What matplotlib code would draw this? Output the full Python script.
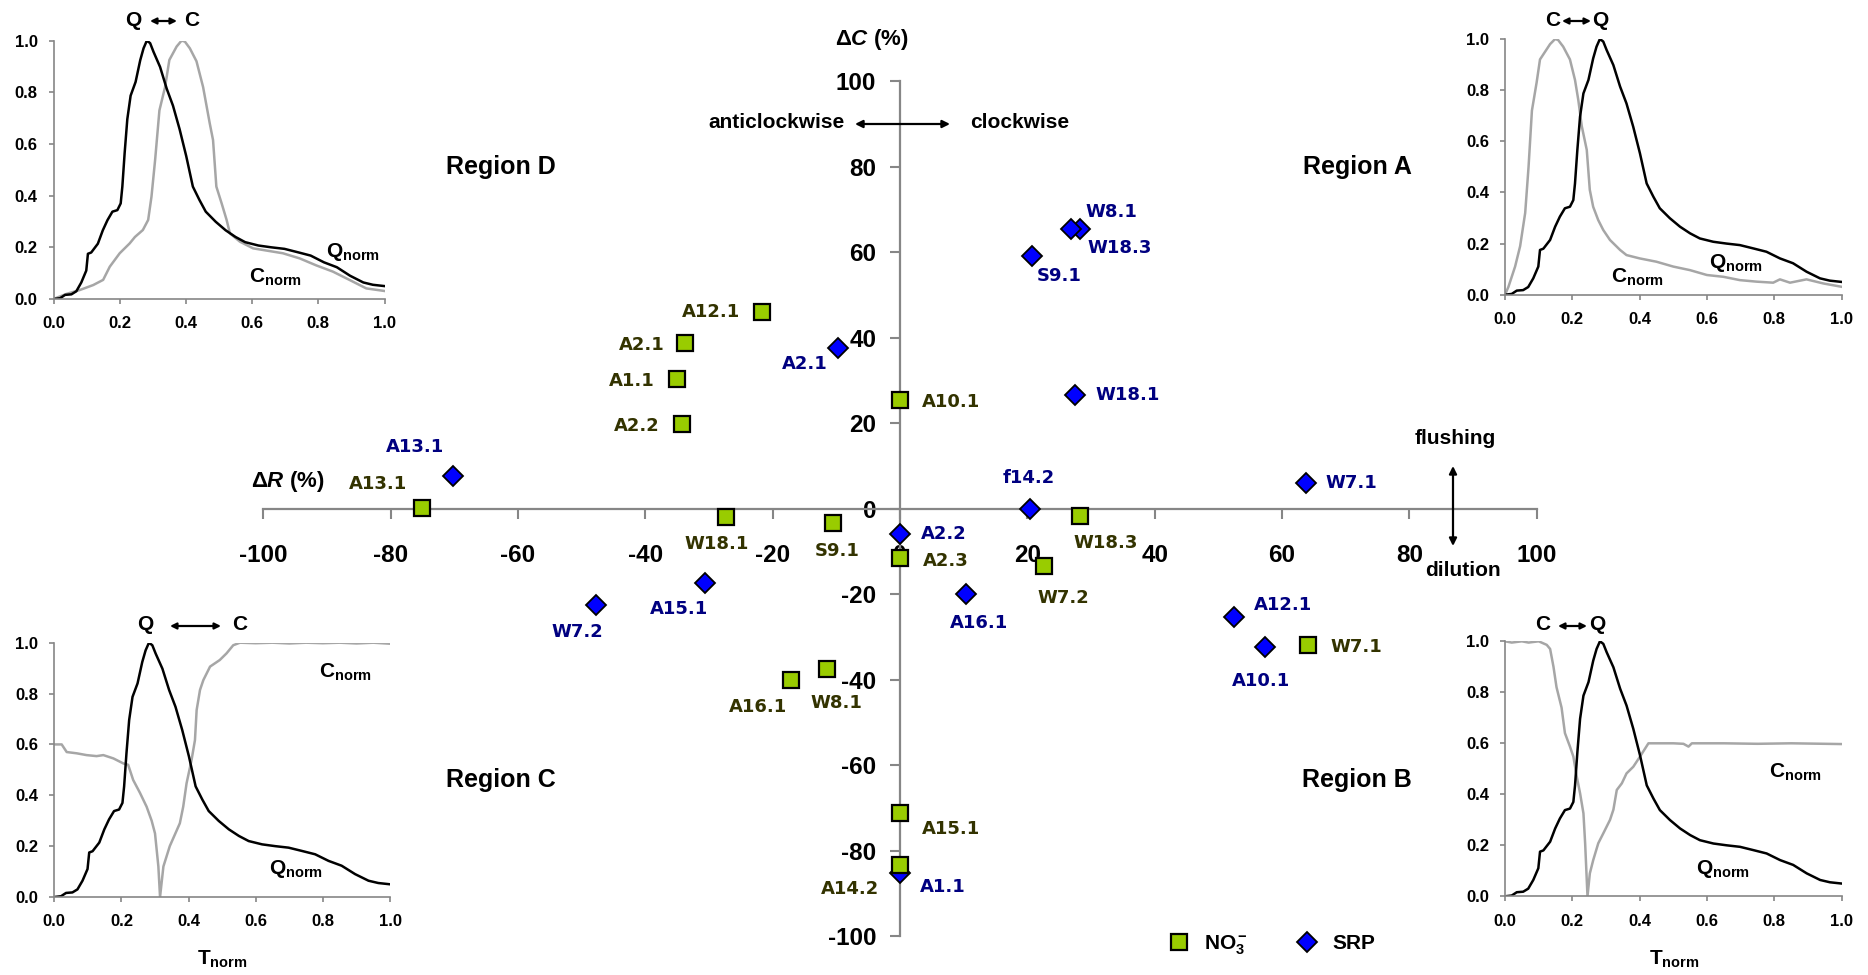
import numpy as np
import matplotlib
matplotlib.use("Agg")
import matplotlib.pyplot as plt
from matplotlib.lines import Line2D
from matplotlib.patches import FancyArrowPatch

plt.rcParams["font.family"] = ["Liberation Sans", "DejaVu Sans"]
plt.rcParams["axes.unicode_minus"] = False
plt.rcParams["mathtext.fontset"] = "custom"
plt.rcParams["mathtext.rm"] = "Liberation Sans"
plt.rcParams["mathtext.bf"] = "Liberation Sans:bold"
plt.rcParams["mathtext.it"] = "Liberation Sans:italic"
plt.rcParams["mathtext.bfit"] = "Liberation Sans:italic:bold"

# ---------------- hysteresis indices (ΔR, ΔC in %) ----------------
no3_events = ["A12.1", "A2.1", "A1.1", "A2.2", "A13.1", "W18.1", "S9.1", "A10.1",
              "A2.3", "W18.3", "W7.2", "W7.1", "A16.1", "W8.1", "A15.1", "A14.2"]
no3_dR = [-21.7, -33.7, -35.0, -34.3, -75.1, -27.4, -10.5, 0.0,
          0.0, 28.2, 22.6, 64.1, -17.1, -11.5, 0.0, 0.0]
no3_dC = [46.1, 38.7, 30.3, 19.7, 0.2, -1.9, -3.3, 25.4,
          -11.6, -1.7, -13.3, -31.9, -40.1, -37.5, -71.2, -83.3]

srp_events = ["W8.1", "W18.3", "S9.1", "A2.1", "W18.1", "A13.1", "f14.2", "W7.1",
              "A2.2", "A16.1", "A15.1", "W7.2", "A12.1", "A10.1", "A1.1"]
srp_dR = [28.2, 26.9, 20.8, -9.8, 27.5, -70.2, 20.4, 63.7,
          0.0, 10.4, -30.7, -47.8, 52.5, 57.3, 0.0]
srp_dC = [65.4, 65.4, 59.1, 37.6, 26.6, 7.6, 0.0, 6.1,
          -6.0, -19.9, -17.3, -22.6, -25.4, -32.3, -85.2]

axis_ticks = [-100, -80, -60, -40, -20, 0, 20, 40, 60, 80, 100]
axis_tick_labels = [str(v) for v in axis_ticks]
inset_ticks = [0.0, 0.2, 0.4, 0.6, 0.8, 1.0]
inset_tick_labels = ["%.1f" % v for v in inset_ticks]

# ---------------- normalised hydrograph and concentration curves ----------------
q_t = [0.0, 0.02, 0.035, 0.054, 0.069, 0.084, 0.099, 0.104, 0.114, 0.134, 0.149,
       0.163, 0.178, 0.193, 0.203, 0.208, 0.215, 0.223, 0.233, 0.248, 0.262, 0.272,
       0.282, 0.292, 0.302, 0.322, 0.342, 0.361, 0.381, 0.401, 0.421, 0.441, 0.46,
       0.49, 0.52, 0.55, 0.579, 0.619, 0.658, 0.698, 0.738, 0.777, 0.817, 0.856,
       0.896, 0.936, 0.965, 1.0]
q_v = [0.0, 0.003, 0.016, 0.018, 0.03, 0.064, 0.11, 0.175, 0.18, 0.214, 0.266,
       0.305, 0.338, 0.344, 0.37, 0.435, 0.566, 0.696, 0.787, 0.84, 0.924, 0.97,
       1.0, 0.99, 0.957, 0.898, 0.814, 0.748, 0.657, 0.553, 0.435, 0.383, 0.338,
       0.299, 0.266, 0.24, 0.22, 0.207, 0.2, 0.194, 0.181, 0.168, 0.142, 0.123,
       0.09, 0.064, 0.055, 0.05]

# Region D (anticlockwise flushing)
cD_t = [0.0, 0.04, 0.08, 0.12, 0.15, 0.17, 0.2, 0.23, 0.246, 0.27, 0.286, 0.296,
        0.307, 0.32, 0.337, 0.35, 0.372, 0.387, 0.397, 0.412, 0.432, 0.452, 0.472,
        0.482, 0.492, 0.508, 0.523, 0.533, 0.563, 0.603, 0.693, 0.744, 0.794,
        0.844, 0.894, 0.945, 1.0]
cD_v = [0.0, 0.02, 0.035, 0.054, 0.074, 0.125, 0.177, 0.215, 0.24, 0.267, 0.306,
        0.396, 0.538, 0.73, 0.82, 0.925, 0.977, 1.0, 0.996, 0.97, 0.92, 0.82, 0.68,
        0.615, 0.435, 0.37, 0.306, 0.254, 0.222, 0.196, 0.177, 0.157, 0.13, 0.106,
        0.074, 0.041, 0.031]

# Region A (clockwise flushing)
cA_t = [0.0, 0.01, 0.03, 0.045, 0.06, 0.07, 0.08, 0.094, 0.104, 0.114, 0.134,
        0.149, 0.158, 0.173, 0.193, 0.208, 0.218, 0.228, 0.243, 0.252, 0.262,
        0.277, 0.292, 0.312, 0.342, 0.361, 0.4, 0.45, 0.5, 0.55, 0.6, 0.649,
        0.698, 0.748, 0.797, 0.817, 0.847, 0.896, 0.946, 1.0]
cA_v = [0.0, 0.03, 0.11, 0.19, 0.32, 0.5, 0.72, 0.83, 0.92, 0.94, 0.98, 1.0,
        0.996, 0.97, 0.92, 0.84, 0.76, 0.66, 0.566, 0.41, 0.344, 0.292, 0.253,
        0.214, 0.175, 0.155, 0.142, 0.129, 0.11, 0.096, 0.077, 0.07, 0.057,
        0.051, 0.047, 0.06, 0.047, 0.06, 0.044, 0.031]

# Region C (anticlockwise dilution)
cC_t = [0.0, 0.022, 0.037, 0.067, 0.096, 0.126, 0.146, 0.176, 0.206, 0.22, 0.235,
        0.255, 0.275, 0.29, 0.3, 0.31, 0.315, 0.325, 0.344, 0.374, 0.384, 0.394,
        0.409, 0.419, 0.424, 0.434, 0.444, 0.464, 0.493, 0.513, 0.533, 0.553,
        0.6, 0.65, 0.7, 0.75, 0.8, 0.85, 0.9, 0.95, 1.0]
cC_v = [0.6, 0.6, 0.57, 0.565, 0.558, 0.554, 0.558, 0.545, 0.525, 0.52, 0.46,
        0.41, 0.355, 0.3, 0.25, 0.12, 0.0, 0.12, 0.2, 0.29, 0.355, 0.447, 0.54,
        0.617, 0.735, 0.814, 0.853, 0.906, 0.932, 0.958, 0.99, 1.0, 0.998, 1.0,
        0.997, 1.0, 0.998, 1.0, 0.997, 1.0, 0.996]

# Region B (clockwise dilution)
cB_t = [0.0, 0.02, 0.05, 0.07, 0.1, 0.124, 0.134, 0.144, 0.153, 0.168, 0.178,
        0.193, 0.203, 0.213, 0.223, 0.233, 0.238, 0.245, 0.252, 0.262, 0.277,
        0.292, 0.312, 0.322, 0.332, 0.347, 0.361, 0.381, 0.401, 0.426, 0.5, 0.53,
        0.545, 0.555, 0.65, 0.75, 0.85, 0.95, 1.0]
cB_v = [1.0, 0.995, 1.0, 0.995, 1.0, 0.986, 0.97, 0.9, 0.82, 0.74, 0.64, 0.587,
        0.548, 0.47, 0.404, 0.325, 0.208, 0.0, 0.09, 0.142, 0.208, 0.247, 0.3,
        0.34, 0.417, 0.443, 0.482, 0.508, 0.548, 0.6, 0.6, 0.598, 0.587, 0.6, 0.6,
        0.598, 0.6, 0.598, 0.597]

# ---------------- styling ----------------
W, H = 1868, 975
GRAY = "#868686"
CURVE_GRAY = "#A6A6A6"
NO3_FACE = "#99CC00"
SRP_FACE = "#0000FF"
NO3_TEXT = "#333300"
SRP_TEXT = "#000080"

# label offsets (pixels) from each marker
no3_label_offsets = {
    "A12.1": (-51, 0), "A2.1": (-44, -2), "A1.1": (-45, -2), "A2.2": (-45, -2),
    "A13.1": (-44, 24), "W18.1": (-9, -27), "S9.1": (4, -28), "A10.1": (51, -2),
    "A2.3": (46, -3), "W18.3": (26, -27), "W7.2": (19, -32), "W7.1": (48, -2),
    "A16.1": (-33, -27), "W8.1": (10, -34), "A15.1": (51, -16), "A14.2": (-50, -24),
}
srp_label_offsets = {
    "W8.1": (32, 17), "W18.3": (48, -19), "S9.1": (27, -20), "A2.1": (-33, -16),
    "W18.1": (53, 0), "A13.1": (-38, 29), "f14.2": (-1, 31), "W7.1": (46, 0),
    "A2.2": (44, 0), "A16.1": (13, -29), "A15.1": (-26, -26), "W7.2": (-18, -27),
    "A12.1": (49, 12), "A10.1": (-4, -34), "A1.1": (43, -14),
}


def fx(px):
    return px / W


def fy(py):
    return 1.0 - py / H


def axes_px(x0, x1, y_top, y_bot):
    return [fx(x0), fy(y_bot), fx(x1) - fx(x0), fy(y_top) - fy(y_bot)]


def ftext(x, y, s, size, **kw):
    kw.setdefault("ha", "center")
    kw.setdefault("va", "center")
    kw.setdefault("fontweight", "bold")
    return fig.text(fx(x), fy(y), s, fontsize=size, **kw)


def farrow(x1, y1, x2, y2, scale=11):
    fig.add_artist(FancyArrowPatch((fx(x1), fy(y1)), (fx(x2), fy(y2)),
                                   transform=fig.transFigure, arrowstyle="<|-|>",
                                   mutation_scale=scale, lw=1.6, color="black",
                                   shrinkA=0, shrinkB=0))


fig = plt.figure(figsize=(W / 100, H / 100), dpi=100)

# ---------------- main ΔR-ΔC diagram ----------------
ax = fig.add_axes(axes_px(263.3, 1536.8, 81, 936.4))
ax.set_xlim(-100, 100)
ax.set_ylim(-100, 100)
ax.set_facecolor("none")
for s in ("top", "right"):
    ax.spines[s].set_visible(False)
for s in ("left", "bottom"):
    ax.spines[s].set_position(("data", 0))
    ax.spines[s].set_color(GRAY)
    ax.spines[s].set_linewidth(1.6)
ax.set_xticks(axis_ticks)
ax.set_xticklabels(axis_tick_labels)
ax.set_yticks(axis_ticks)
ax.set_yticklabels(axis_tick_labels)
ax.tick_params(axis="x", direction="out", length=7.2, width=1.5, color=GRAY,
               pad=18.5, labelsize=17.5)
ax.tick_params(axis="y", direction="out", length=7.2, width=1.5, color=GRAY,
               pad=10, labelsize=17.5)
for lab in ax.get_xticklabels() + ax.get_yticklabels():
    lab.set_fontweight("bold")

srp_line, = ax.plot(srp_dR, srp_dC, ls="none", marker="D", ms=10, mfc=SRP_FACE,
                    mec="black", mew=1.3, clip_on=False, zorder=5)
no3_line, = ax.plot(no3_dR, no3_dC, ls="none", marker="s", ms=11, mfc=NO3_FACE,
                    mec="black", mew=1.6, clip_on=False, zorder=6)

for name, x, y in zip(srp_events, srp_dR, srp_dC):
    ax.annotate(name, (x, y), xytext=srp_label_offsets[name], textcoords="offset pixels",
                ha="center", va="center", fontsize=13, fontweight="bold",
                family="DejaVu Sans", color=SRP_TEXT, zorder=7, annotation_clip=False)
for name, x, y in zip(no3_events, no3_dR, no3_dC):
    ax.annotate(name, (x, y), xytext=no3_label_offsets[name], textcoords="offset pixels",
                ha="center", va="center", fontsize=13, fontweight="bold",
                family="DejaVu Sans", color=NO3_TEXT, zorder=7, annotation_clip=False)

fig.legend(handles=[no3_line, srp_line],
           labels=[r"$\mathbf{NO_3^-}$", "SRP"],
           loc="center", bbox_to_anchor=(fx(1272), fy(945)), ncol=2, frameon=False,
           prop={"size": 15, "weight": "bold"}, handlelength=1.0,
           handletextpad=0.7, columnspacing=2.35, borderpad=0, numpoints=1)

# axis titles and annotations
ftext(872, 40, r"$\mathbf{\Delta}\mathbfit{C}$ (%)", 16)
ftext(288, 481, r"$\mathbf{\Delta}\mathbfit{R}$ (%)", 16)
ftext(845, 123, "anticlockwise", 15, ha="right")
ftext(970, 123, "clockwise", 15, ha="left")
farrow(855, 124, 950, 124)
ftext(1455, 438, "flushing", 15)
ftext(1463, 570, "dilution", 15)
farrow(1453, 466, 1453, 546)

ftext(501, 167, "Region D", 18)
ftext(1357, 167, "Region A", 18)
ftext(501, 780, "Region C", 18)
ftext(1357, 780, "Region B", 18)


# ---------------- conceptual insets ----------------
def inset(rect, c_t, c_v):
    a = fig.add_axes(rect)
    a.plot(c_t, c_v, color=CURVE_GRAY, lw=1.8)
    a.plot(q_t, q_v, color="black", lw=1.8)
    a.set_xlim(0, 1)
    a.set_ylim(0, 1)
    a.set_facecolor("none")
    for s in ("top", "right"):
        a.spines[s].set_visible(False)
    for s in ("left", "bottom"):
        a.spines[s].set_color(GRAY)
        a.spines[s].set_linewidth(1.2)
    a.set_xticks(inset_ticks)
    a.set_xticklabels(inset_tick_labels)
    a.set_yticks(inset_ticks)
    a.set_yticklabels(inset_tick_labels)
    a.tick_params(axis="x", direction="out", length=3.5, width=1.2, color=GRAY,
                  pad=9, labelsize=12)
    a.tick_params(axis="y", direction="out", length=3.5, width=1.2, color=GRAY,
                  pad=8, labelsize=12)
    for lab in a.get_xticklabels() + a.get_yticklabels():
        lab.set_fontweight("bold")
    return a


Q_LBL = r"$\mathbf{Q}_{\mathbf{norm}}$"
C_LBL = r"$\mathbf{C}_{\mathbf{norm}}$"
T_LBL = r"$\mathbf{T}_{\mathbf{norm}}$"

# Region D
inset(axes_px(53.5, 384.5, 40.6, 299), cD_t, cD_v)
ftext(353, 252, Q_LBL, 15)
ftext(275, 277, C_LBL, 15)
ftext(133, 20, "Q", 15)
ftext(192, 20, "C", 15)
farrow(150, 21, 177, 21, scale=9)

# Region A
inset(axes_px(1505, 1841.5, 39, 294.7), cA_t, cA_v)
ftext(1736, 263, Q_LBL, 15)
ftext(1637, 277, C_LBL, 15)
ftext(1553, 20, "C", 15)
ftext(1600, 20, "Q", 15)
farrow(1562, 21, 1591, 21, scale=9)

# Region C
inset(axes_px(54.3, 390, 642.7, 897), cC_t, cC_v)
ftext(345, 672, C_LBL, 15)
ftext(296, 869, Q_LBL, 15)
ftext(222, 959, T_LBL, 15)
ftext(145, 625, "Q", 15)
ftext(240, 625, "C", 15)
farrow(170, 626, 221, 626, scale=9)

# Region B
inset(axes_px(1505, 1841.7, 641.3, 896.3), cB_t, cB_v)
ftext(1795, 772, C_LBL, 15)
ftext(1723, 869, Q_LBL, 15)
ftext(1674, 959, T_LBL, 15)
ftext(1543, 625, "C", 15)
ftext(1597, 625, "Q", 15)
farrow(1558, 626, 1587, 626, scale=9)

fig.savefig("out.png", dpi=100)
